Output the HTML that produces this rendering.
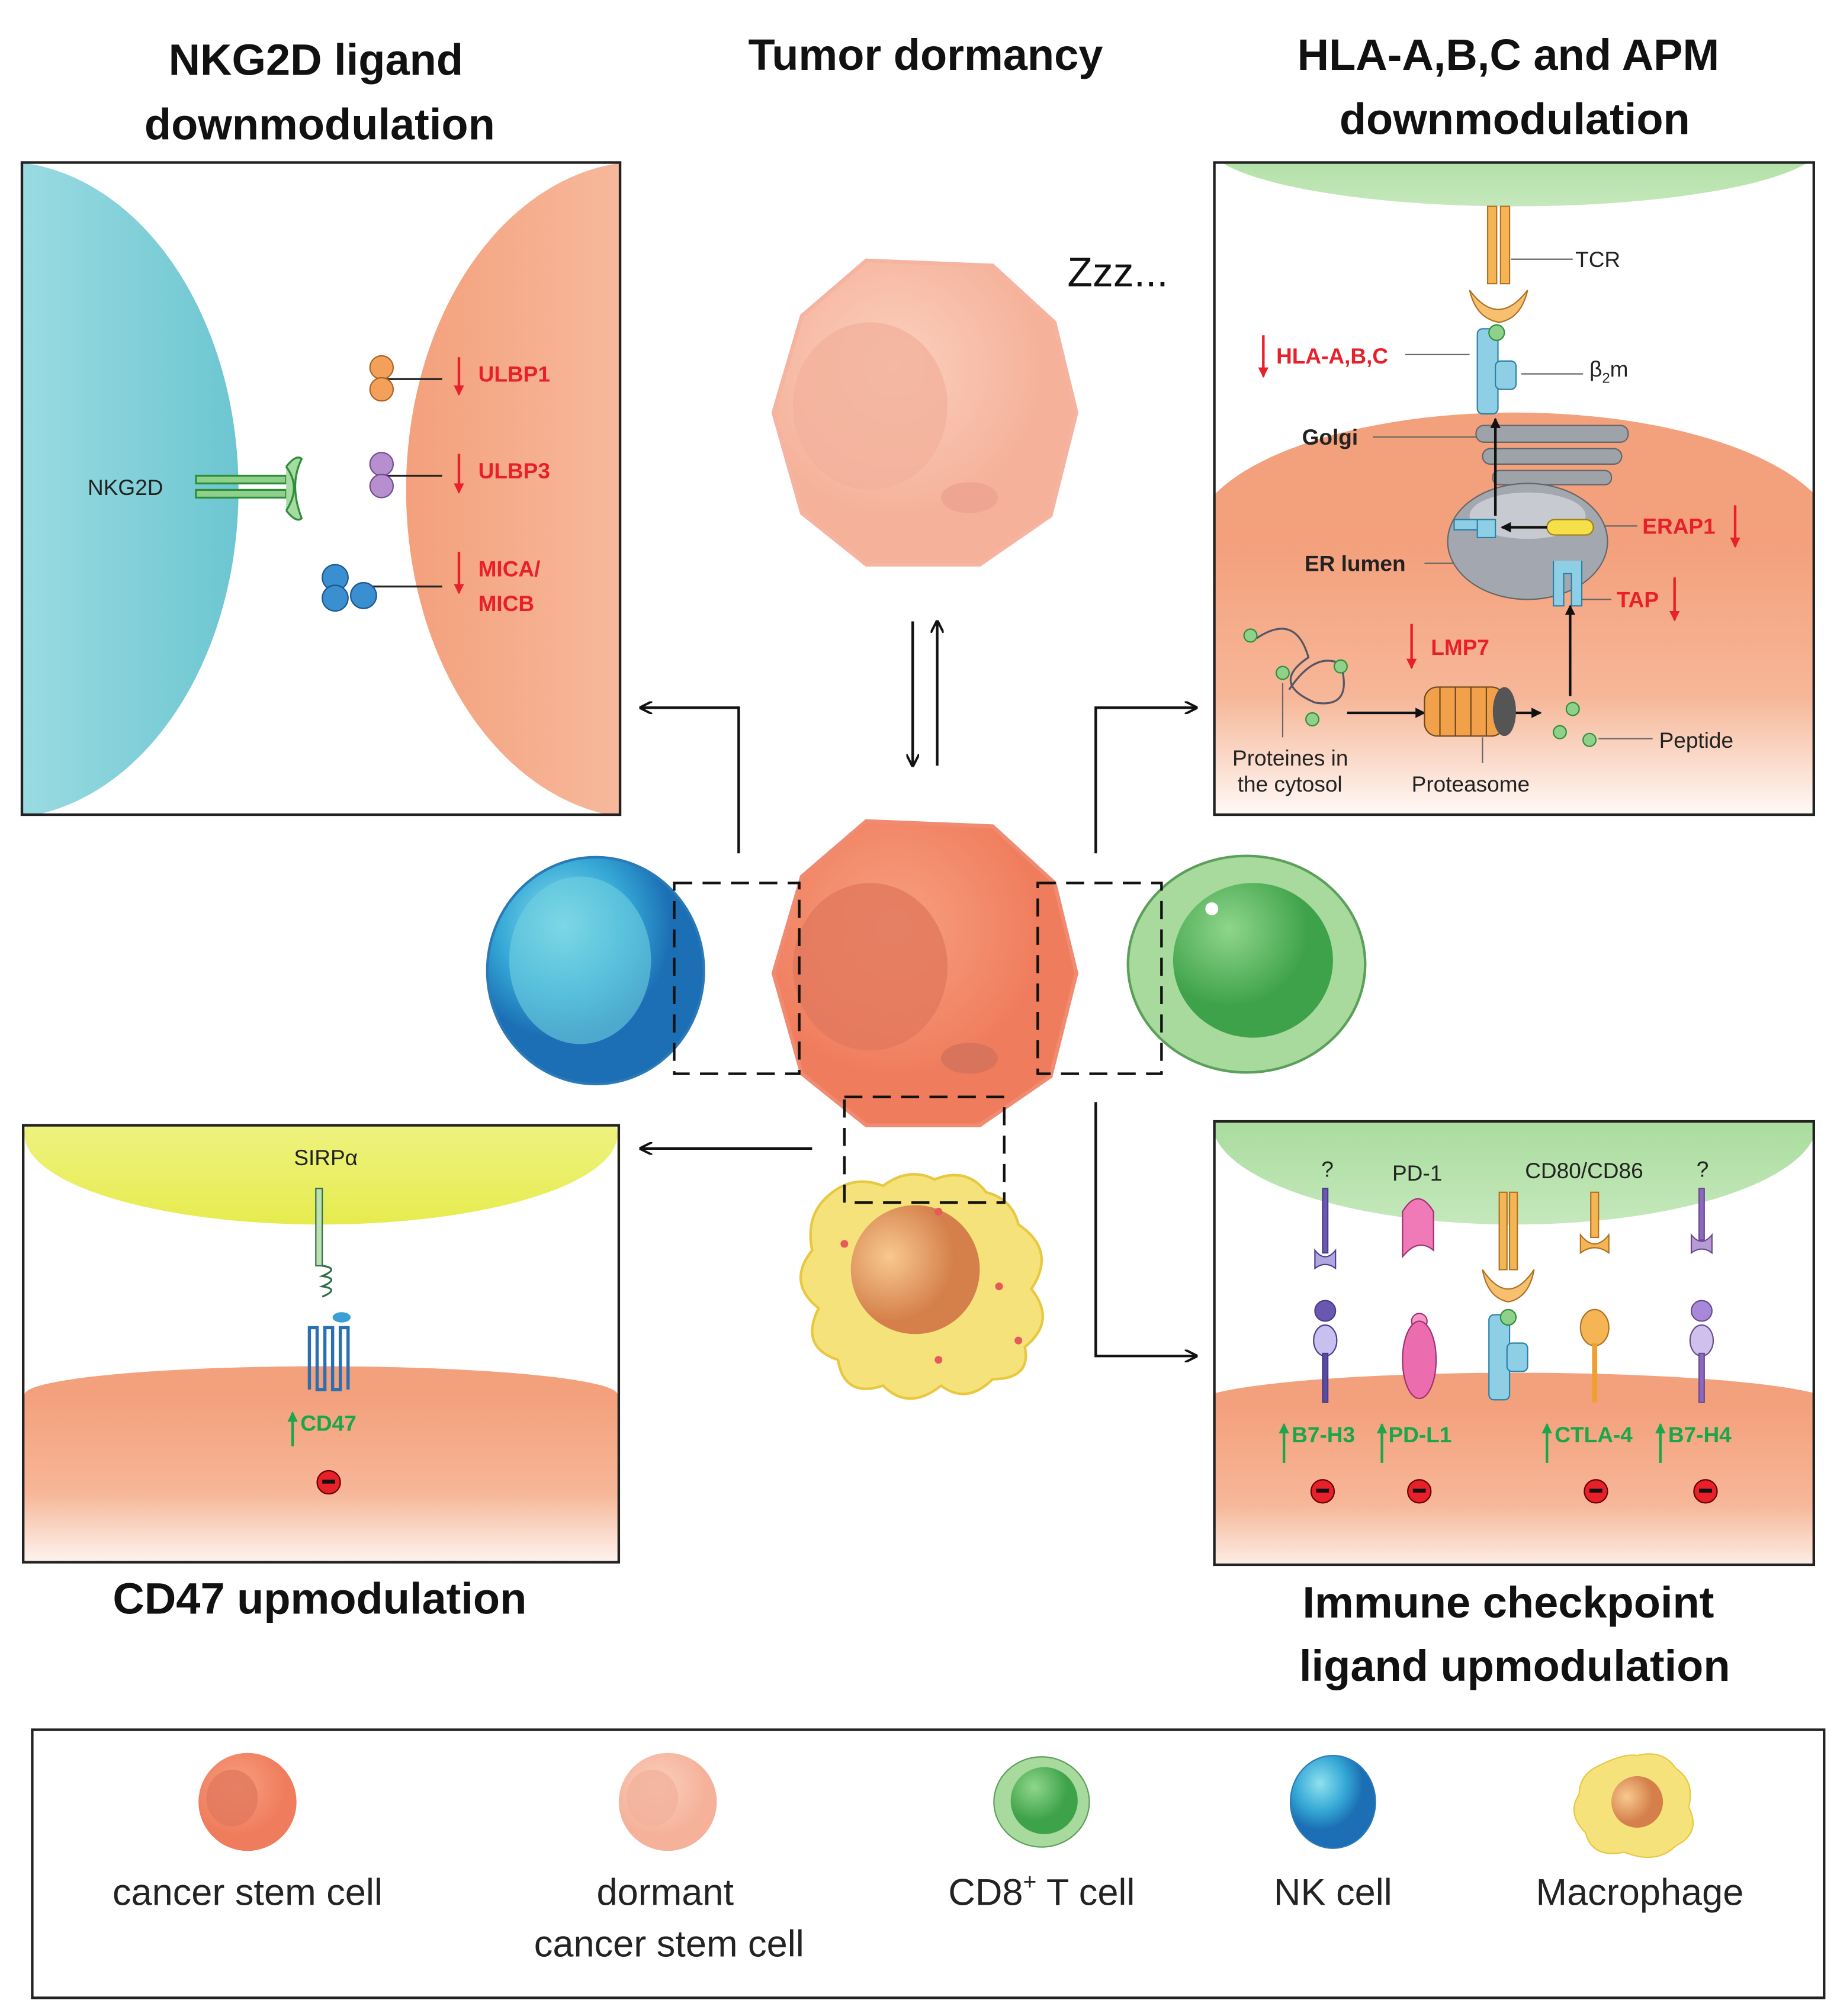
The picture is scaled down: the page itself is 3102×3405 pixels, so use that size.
<!DOCTYPE html>
<html><head><meta charset="utf-8"><style>
html,body{margin:0;padding:0;background:#fff}
svg{display:block}
text{font-family:"Liberation Sans",sans-serif}
.t{font-weight:bold;font-size:34px;fill:#111;text-anchor:middle}
.r{fill:#e8202a;font-weight:bold;font-size:17px}
.g{fill:#1aa64a;font-weight:bold;font-size:17px}
.k{fill:#222;font-size:17px}
.L{fill:#222;font-size:29px;text-anchor:middle}
</style></head><body>
<svg width="3102" height="3405" viewBox="0 0 1425 1564" xmlns="http://www.w3.org/2000/svg">
<defs>
<linearGradient id="cy" x1="0" x2="1"><stop offset="0" stop-color="#fff"/><stop offset="0.5" stop-color="#9fdde3"/><stop offset="1" stop-color="#6cc6d1"/></linearGradient>
<linearGradient id="sa" x1="0" x2="1"><stop offset="0" stop-color="#f4a07c"/><stop offset="0.6" stop-color="#f7c1a6"/><stop offset="1" stop-color="#fff"/></linearGradient>
<linearGradient id="sv" x1="0" y1="0" x2="0" y2="1"><stop offset="0" stop-color="#f4a07c"/><stop offset="0.55" stop-color="#f6b798"/><stop offset="1" stop-color="#fff"/></linearGradient>
<linearGradient id="gr" x1="0" y1="0" x2="0" y2="1"><stop offset="0" stop-color="#8ed07f"/><stop offset="1" stop-color="#c5e8bc"/></linearGradient>
<linearGradient id="ye" x1="0" y1="0" x2="0" y2="1"><stop offset="0" stop-color="#f5f7a8"/><stop offset="1" stop-color="#e6ec4e"/></linearGradient>
<radialGradient id="can" cx="0.4" cy="0.35"><stop offset="0" stop-color="#f7a080"/><stop offset="1" stop-color="#ef7c5c"/></radialGradient>
<radialGradient id="dor" cx="0.4" cy="0.35"><stop offset="0" stop-color="#fbd0bd"/><stop offset="1" stop-color="#f5b19a"/></radialGradient>
<radialGradient id="nk" cx="0.35" cy="0.3"><stop offset="0" stop-color="#8fe1ee"/><stop offset="0.6" stop-color="#35a8d6"/><stop offset="1" stop-color="#1c6fb4"/></radialGradient>
<radialGradient id="tc" cx="0.35" cy="0.3"><stop offset="0" stop-color="#8fd68a"/><stop offset="1" stop-color="#3ea24a"/></radialGradient>
<radialGradient id="mn" cx="0.3" cy="0.4"><stop offset="0" stop-color="#f8c890"/><stop offset="1" stop-color="#d5804a"/></radialGradient>
<marker id="ah" markerWidth="10" markerHeight="10" refX="9" refY="5" orient="auto" markerUnits="userSpaceOnUse"><path d="M0,0 L10,5 L0,10" fill="none" stroke="#111" stroke-width="1.8"/></marker>
<marker id="af" markerWidth="8" markerHeight="8" refX="7" refY="4" orient="auto" markerUnits="userSpaceOnUse"><path d="M0,0 L8,4 L0,8z" fill="#111"/></marker>
<marker id="ar" markerWidth="8" markerHeight="8" refX="7" refY="4" orient="auto" markerUnits="userSpaceOnUse"><path d="M0,0 L8,4 L0,8z" fill="#e8202a"/></marker>
<marker id="ag" markerWidth="8" markerHeight="8" refX="7" refY="4" orient="auto" markerUnits="userSpaceOnUse"><path d="M0,0 L8,4 L0,8z" fill="#1aa64a"/></marker>
<clipPath id="c1"><rect x="17" y="126" width="464" height="506"/></clipPath>
<clipPath id="c2"><rect x="942" y="126" width="465" height="506"/></clipPath>
<clipPath id="c3"><rect x="18" y="873" width="462" height="339"/></clipPath>
<clipPath id="c4"><rect x="942" y="870" width="465" height="344"/></clipPath>
</defs>

<!-- Titles -->
<text class="t" x="245" y="58">NKG2D ligand</text>
<text class="t" x="248" y="108">downmodulation</text>
<text class="t" x="718" y="54">Tumor dormancy</text>
<text class="t" x="1170" y="54">HLA-A,B,C and APM</text>
<text class="t" x="1175" y="104">downmodulation</text>
<text class="t" x="248" y="1252">CD47 upmodulation</text>
<text class="t" x="1170" y="1255">Immune checkpoint</text>
<text class="t" x="1175" y="1304">ligand upmodulation</text>

<!-- Box TL -->
<g clip-path="url(#c1)">
<ellipse cx="0" cy="380" rx="185" ry="255" fill="url(#cy)"/>
<ellipse cx="500" cy="380" rx="185" ry="255" fill="url(#sa)"/>
</g>
<rect x="17" y="126" width="464" height="506" fill="none" stroke="#222" stroke-width="2"/>
<text class="k" x="68" y="384">NKG2D</text>
<g fill="none" stroke="#2f8e3b" stroke-width="1.5">
<rect x="152" y="369" width="70" height="6" fill="#8fd08a"/><rect x="152" y="380" width="70" height="6" fill="#8fd08a"/>
<path d="M222,362 q12,16 0,34 M222,362 q8,-10 12,-6 q-10,20 0,46 q-4,4 -12,-6" fill="#a6dca1"/>
</g>
<g stroke="#222" stroke-width="1.5">
<line x1="300" y1="294" x2="343" y2="294"/><line x1="300" y1="369" x2="343" y2="369"/><line x1="275" y1="455" x2="343" y2="455"/>
</g>
<circle cx="296" cy="285" r="9" fill="#f3a15a" stroke="#b06020"/><circle cx="296" cy="302" r="9" fill="#f3a15a" stroke="#b06020"/>
<circle cx="296" cy="360" r="9" fill="#b78fcf" stroke="#704c90"/><circle cx="296" cy="377" r="9" fill="#b78fcf" stroke="#704c90"/>
<circle cx="260" cy="448" r="10" fill="#3a8fd0" stroke="#1c5590"/><circle cx="260" cy="464" r="10" fill="#3a8fd0" stroke="#1c5590"/><circle cx="282" cy="462" r="10" fill="#3a8fd0" stroke="#1c5590"/>
<g stroke="#e8202a" stroke-width="2"><line x1="356" y1="277" x2="356" y2="306" marker-end="url(#ar)"/><line x1="356" y1="352" x2="356" y2="382" marker-end="url(#ar)"/><line x1="356" y1="428" x2="356" y2="460" marker-end="url(#ar)"/></g>
<text class="r" x="371" y="296">ULBP1</text><text class="r" x="371" y="371">ULBP3</text>
<text class="r" x="371" y="447">MICA/</text><text class="r" x="371" y="474">MICB</text>

<!-- Box TR -->
<g clip-path="url(#c2)">
<ellipse cx="1175" cy="110" rx="240" ry="50" fill="url(#gr)"/>
<ellipse cx="1175" cy="420" rx="250" ry="100" fill="#f3a07c"/>
<rect x="925" y="420" width="500" height="220" fill="url(#sv)"/>
</g>
<rect x="942" y="126" width="465" height="506" fill="none" stroke="#222" stroke-width="2"/>
<rect x="1154" y="160" width="7" height="60" fill="#f6b554" stroke="#b07020"/><rect x="1164" y="160" width="7" height="60" fill="#f6b554" stroke="#b07020"/>
<path d="M1140,225 q22,30 45,0 q-5,22 -22,25 q-18,-3 -23,-25z" fill="#f6c070" stroke="#b07020"/>
<rect x="1146" y="255" width="16" height="66" rx="4" fill="#8fcfe6" stroke="#2a80a8"/>
<rect x="1160" y="280" width="16" height="22" rx="4" fill="#8fcfe6" stroke="#2a80a8"/>
<circle cx="1161" cy="258" r="6" fill="#8fd08a" stroke="#2f8e3b"/>
<g stroke="#666" stroke-width="1"><line x1="1172" y1="201" x2="1220" y2="201"/><line x1="1180" y1="290" x2="1228" y2="290"/><line x1="1090" y1="275" x2="1140" y2="275"/><line x1="1065" y1="339" x2="1148" y2="339"/><line x1="1105" y1="437" x2="1180" y2="437"/><line x1="1222" y1="408" x2="1270" y2="408"/><line x1="1222" y1="465" x2="1250" y2="465"/><line x1="1240" y1="573" x2="1282" y2="573"/><line x1="1150" y1="572" x2="1150" y2="592"/><line x1="995" y1="530" x2="995" y2="572"/></g>
<text class="k" x="1222" y="207">TCR</text>
<text class="k" x="1233" y="292">β<tspan font-size="11" dy="5">2</tspan><tspan dy="-5">m</tspan></text>
<line x1="980" y1="260" x2="980" y2="292" stroke="#e8202a" stroke-width="2" marker-end="url(#ar)"/>
<text class="r" x="990" y="282">HLA-A,B,C</text>
<text class="k" x="1010" y="345" font-weight="bold">Golgi</text>
<g fill="#9ea3aa" stroke="#666"><rect x="1145" y="330" width="118" height="13" rx="6"/><rect x="1150" y="348" width="108" height="12" rx="6"/><rect x="1158" y="365" width="92" height="11" rx="5"/></g>
<ellipse cx="1185" cy="420" rx="62" ry="45" fill="#a3a8b0" stroke="#666"/>
<ellipse cx="1185" cy="400" rx="45" ry="18" fill="#c7cbd1"/>
<text class="k" x="1012" y="443" font-weight="bold">ER lumen</text>
<rect x="1200" y="403" width="36" height="12" rx="6" fill="#f5e04a" stroke="#a08010"/>
<rect x="1128" y="403" width="28" height="8" fill="#8fcfe6" stroke="#2a80a8"/><rect x="1146" y="403" width="14" height="14" fill="#8fcfe6" stroke="#2a80a8"/>
<line x1="1200" y1="409" x2="1165" y2="409" stroke="#111" stroke-width="2" marker-end="url(#af)"/>
<line x1="1160" y1="400" x2="1160" y2="325" stroke="#111" stroke-width="2" marker-end="url(#af)"/>
<path d="M1205,435 v35 h8 v-25 h6 v25 h8 v-35" fill="#8fcfe6" stroke="#2a80a8"/>
<text class="r" x="1274" y="414">ERAP1</text><line x1="1346" y1="392" x2="1346" y2="424" stroke="#e8202a" stroke-width="2" marker-end="url(#ar)"/>
<text class="r" x="1254" y="471">TAP</text><line x1="1299" y1="448" x2="1299" y2="481" stroke="#e8202a" stroke-width="2" marker-end="url(#ar)"/>
<line x1="1095" y1="484" x2="1095" y2="518" stroke="#e8202a" stroke-width="2" marker-end="url(#ar)"/>
<text class="r" x="1110" y="508">LMP7</text>
<line x1="1218" y1="540" x2="1218" y2="470" stroke="#111" stroke-width="2" marker-end="url(#af)"/>
<line x1="1045" y1="553" x2="1105" y2="553" stroke="#111" stroke-width="2" marker-end="url(#af)"/>
<line x1="1175" y1="553" x2="1195" y2="553" stroke="#111" stroke-width="2" marker-end="url(#af)"/>
<rect x="1105" y="533" width="62" height="38" rx="10" fill="#f3a04a" stroke="#6b4a20"/>
<g stroke="#6b4a20" stroke-width="1"><line x1="1117" y1="533" x2="1117" y2="571"/><line x1="1129" y1="533" x2="1129" y2="571"/><line x1="1141" y1="533" x2="1141" y2="571"/><line x1="1153" y1="533" x2="1153" y2="571"/></g>
<ellipse cx="1167" cy="552" rx="9" ry="19" fill="#555"/>
<path d="M975,495 q30,-20 40,15 q-30,20 5,35 q30,5 20,-30 q-20,-10 -40,20" fill="none" stroke="#556" stroke-width="1.5"/>
<g fill="#8fd08a" stroke="#2f8e3b"><circle cx="970" cy="493" r="5"/><circle cx="995" cy="522" r="5"/><circle cx="1040" cy="517" r="5"/><circle cx="1018" cy="558" r="5"/><circle cx="1220" cy="550" r="5"/><circle cx="1210" cy="568" r="5"/><circle cx="1233" cy="574" r="5"/></g>
<text class="k" x="956" y="594">Proteines in</text><text class="k" x="960" y="614">the cytosol</text>
<text class="k" x="1095" y="614">Proteasome</text><text class="k" x="1287" y="580">Peptide</text>
<text x="828" y="222" font-size="32" fill="#111">Zzz...</text>

<!-- Box BL -->
<g clip-path="url(#c3)">
<ellipse cx="249" cy="880" rx="230" ry="70" fill="url(#ye)"/>
<ellipse cx="249" cy="1082" rx="230" ry="22" fill="#f3a07c"/>
<rect x="18" y="1082" width="462" height="140" fill="url(#sv)"/>
</g>
<rect x="18" y="873" width="462" height="339" fill="none" stroke="#222" stroke-width="2"/>
<text class="k" x="228" y="904">SIRPα</text>
<rect x="245" y="922" width="5" height="60" fill="#bfe0b0" stroke="#2f6e4b"/>
<path d="M250,982 q14,2 0,8 q14,2 0,8 q14,2 0,8" fill="none" stroke="#2f6e4b" stroke-width="1.5"/>
<ellipse cx="265" cy="1022" rx="7" ry="4" fill="#3a9fd5"/>
<path d="M240,1078 v-48 h6 v48 h6 v-48 h6 v48 h6 v-48 h6 v48" fill="none" stroke="#2a70b0" stroke-width="2.5"/>
<line x1="227" y1="1122" x2="227" y2="1096" stroke="#1aa64a" stroke-width="2" marker-end="url(#ag)"/>
<text class="g" x="233" y="1110">CD47</text>
<circle cx="255" cy="1150" r="9" fill="#e8202a" stroke="#600"/><rect x="250" y="1148" width="10" height="3" fill="#111"/>

<!-- Box BR -->
<g clip-path="url(#c4)">
<ellipse cx="1175" cy="870" rx="235" ry="80" fill="url(#gr)"/>
<ellipse cx="1175" cy="1090" rx="250" ry="25" fill="#f3a07c"/>
<rect x="925" y="1090" width="500" height="140" fill="url(#sv)"/>
</g>
<rect x="942" y="870" width="465" height="344" fill="none" stroke="#222" stroke-width="2"/>
<text class="k" x="1025" y="913">?</text><text class="k" x="1080" y="916">PD-1</text><text class="k" x="1183" y="914">CD80/CD86</text><text class="k" x="1316" y="913">?</text>
<g stroke="#4a3c8c"><rect x="1026" y="922" width="4" height="50" fill="#6a58b0"/><path d="M1020,970 q8,10 16,0 l0,14 q-8,-6 -16,0z" fill="#b0a6e0"/>
<circle cx="1028" cy="1017" r="8" fill="#6a58b0"/><ellipse cx="1028" cy="1040" rx="9" ry="12" fill="#c8c0ee"/><rect x="1026" y="1050" width="4" height="38" fill="#5a4aa0"/></g>
<path d="M1088,940 q12,-20 24,0 v30 q-12,-10 -24,5z" fill="#f07ab8" stroke="#a03070"/>
<circle cx="1101" cy="1025" r="6" fill="#f59ac8" stroke="#a03070"/><ellipse cx="1101" cy="1055" rx="13" ry="30" fill="#ec6cb0" stroke="#a03070"/>
<rect x="1163" y="925" width="6" height="60" fill="#f6b554" stroke="#b07020"/><rect x="1171" y="925" width="6" height="60" fill="#f6b554" stroke="#b07020"/>
<path d="M1150,985 q20,30 40,0 q-4,22 -20,25 q-16,-3 -20,-25z" fill="#f6c070" stroke="#b07020"/>
<rect x="1155" y="1020" width="16" height="66" rx="4" fill="#8fcfe6" stroke="#2a80a8"/><rect x="1169" y="1042" width="16" height="22" rx="4" fill="#8fcfe6" stroke="#2a80a8"/>
<circle cx="1170" cy="1022" r="6" fill="#8fd08a" stroke="#2f8e3b"/>
<rect x="1234" y="925" width="6" height="35" fill="#f6b554" stroke="#b07020"/><path d="M1226,958 q11,14 22,0 v14 q-11,-8 -22,0z" fill="#f6b554" stroke="#b07020"/>
<ellipse cx="1237" cy="1030" rx="11" ry="14" fill="#f6b554" stroke="#b07020"/><rect x="1235" y="1042" width="4" height="46" fill="#f0a030"/>
<g stroke="#6a4a8c"><rect x="1318" y="922" width="4" height="40" fill="#8a6ac0"/><path d="M1312,958 q8,10 16,0 l0,14 q-8,-6 -16,0z" fill="#b79ad8"/>
<circle cx="1320" cy="1017" r="8" fill="#a888d8"/><ellipse cx="1320" cy="1040" rx="9" ry="12" fill="#d0c0ee"/><rect x="1318" y="1050" width="4" height="38" fill="#8a6ac0"/></g>
<g stroke="#1aa64a" stroke-width="2"><line x1="996" y1="1135" x2="996" y2="1105" marker-end="url(#ag)"/><line x1="1072" y1="1135" x2="1072" y2="1105" marker-end="url(#ag)"/><line x1="1200" y1="1135" x2="1200" y2="1105" marker-end="url(#ag)"/><line x1="1288" y1="1135" x2="1288" y2="1105" marker-end="url(#ag)"/></g>
<text class="g" x="1002" y="1119">B7-H3</text><text class="g" x="1077" y="1119">PD-L1</text><text class="g" x="1206" y="1119">CTLA-4</text><text class="g" x="1294" y="1119">B7-H4</text>
<g fill="#e8202a" stroke="#600"><circle cx="1026" cy="1157" r="9"/><circle cx="1101" cy="1157" r="9"/><circle cx="1238" cy="1157" r="9"/><circle cx="1323" cy="1157" r="9"/></g>
<g fill="#111"><rect x="1021" y="1155" width="10" height="3"/><rect x="1096" y="1155" width="10" height="3"/><rect x="1233" y="1155" width="10" height="3"/><rect x="1318" y="1155" width="10" height="3"/></g>

<!-- Center cells -->
<polygon points="672,202 770,206 818,250 835,320 815,400 760,438 672,438 622,398 600,320 622,245" fill="url(#dor)" stroke="#f5b3a0" stroke-width="3"/>
<ellipse cx="675" cy="315" rx="60" ry="65" fill="#f2b29c" opacity="0.8"/>
<ellipse cx="752" cy="386" rx="22" ry="12" fill="#eea692"/>
<polygon points="672,637 770,641 818,685 835,755 815,835 760,873 672,873 622,833 600,755 622,680" fill="url(#can)" stroke="#f08a70" stroke-width="3"/>
<ellipse cx="675" cy="750" rx="60" ry="65" fill="#e2785c" opacity="0.8"/>
<ellipse cx="752" cy="821" rx="22" ry="12" fill="#d8745c"/>
<ellipse cx="462" cy="753" rx="84" ry="88" fill="url(#nk)" stroke="#2a7ab8" stroke-width="2"/>
<ellipse cx="450" cy="745" rx="55" ry="65" fill="#6fd0e0" opacity="0.6"/>
<ellipse cx="967" cy="748" rx="92" ry="84" fill="#a8d99d" stroke="#5aa05a" stroke-width="2"/>
<ellipse cx="972" cy="745" rx="62" ry="60" fill="url(#tc)"/>
<circle cx="940" cy="705" r="5" fill="#fff"/>
<path d="M640,930 q20,-20 45,-10 q20,-15 40,-5 q25,-10 40,10 q20,5 25,25 q30,20 10,50 q20,25 -5,45 q5,25 -25,25 q-20,20 -40,5 q-25,20 -45,0 q-30,10 -35,-20 q-30,-10 -15,-40 q-25,-20 -5,-45 q-5,-25 10,-40z" fill="#f5e27a" stroke="#e8c840" stroke-width="2"/>
<circle cx="710" cy="985" r="50" fill="url(#mn)"/>
<g fill="#e85a5a"><circle cx="655" cy="965" r="3"/><circle cx="775" cy="998" r="3"/><circle cx="728" cy="1055" r="3"/><circle cx="790" cy="1040" r="3"/><circle cx="728" cy="940" r="3"/></g>

<!-- dashed boxes -->
<g fill="none" stroke="#111" stroke-width="2" stroke-dasharray="14,8">
<rect x="523" y="685" width="97" height="148"/><rect x="805" y="685" width="96" height="148"/><rect x="655" y="851" width="124" height="82"/>
</g>
<!-- connectors -->
<g fill="none" stroke="#111" stroke-width="2">
<line x1="708" y1="482" x2="708" y2="594" marker-end="url(#ah)"/><line x1="727" y1="594" x2="727" y2="482" marker-end="url(#ah)"/>
<polyline points="573,662 573,549 497,549" marker-end="url(#ah)"/>
<polyline points="850,662 850,549 928,549" marker-end="url(#ah)"/>
<line x1="630" y1="891" x2="497" y2="891" marker-end="url(#ah)"/>
<polyline points="850,855 850,1052 928,1052" marker-end="url(#ah)"/>
</g>

<!-- Legend -->
<rect x="25" y="1342" width="1390" height="208" fill="none" stroke="#222" stroke-width="2"/>
<circle cx="192" cy="1398" r="38" fill="url(#can)"/><ellipse cx="180" cy="1395" rx="20" ry="22" fill="#e2785c" opacity="0.8"/>
<circle cx="518" cy="1398" r="38" fill="url(#dor)"/><ellipse cx="506" cy="1395" rx="20" ry="22" fill="#f2b29c" opacity="0.8"/>
<ellipse cx="808" cy="1398" rx="37" ry="35" fill="#a8d99d" stroke="#5aa05a"/><circle cx="810" cy="1397" r="26" fill="url(#tc)"/>
<ellipse cx="1034" cy="1398" rx="33" ry="36" fill="url(#nk)" stroke="#2a7ab8"/>
<path d="M1240,1370 q20,-10 30,-8 q20,-5 30,10 q15,10 10,30 q10,20 -10,30 q-15,15 -40,5 q-25,5 -30,-15 q-15,-15 -5,-30 q0,-15 15,-22z" fill="#f5e27a" stroke="#e8c840"/>
<circle cx="1270" cy="1398" r="20" fill="url(#mn)"/>
<text class="L" x="192" y="1478">cancer stem cell</text>
<text class="L" x="516" y="1478">dormant</text><text class="L" x="519" y="1518">cancer stem cell</text>
<text class="L" x="808" y="1478">CD8<tspan font-size="18" dy="-12">+</tspan><tspan dy="12"> T cell</tspan></text>
<text class="L" x="1034" y="1478">NK cell</text>
<text class="L" x="1272" y="1478">Macrophage</text>
</svg>
</body></html>
